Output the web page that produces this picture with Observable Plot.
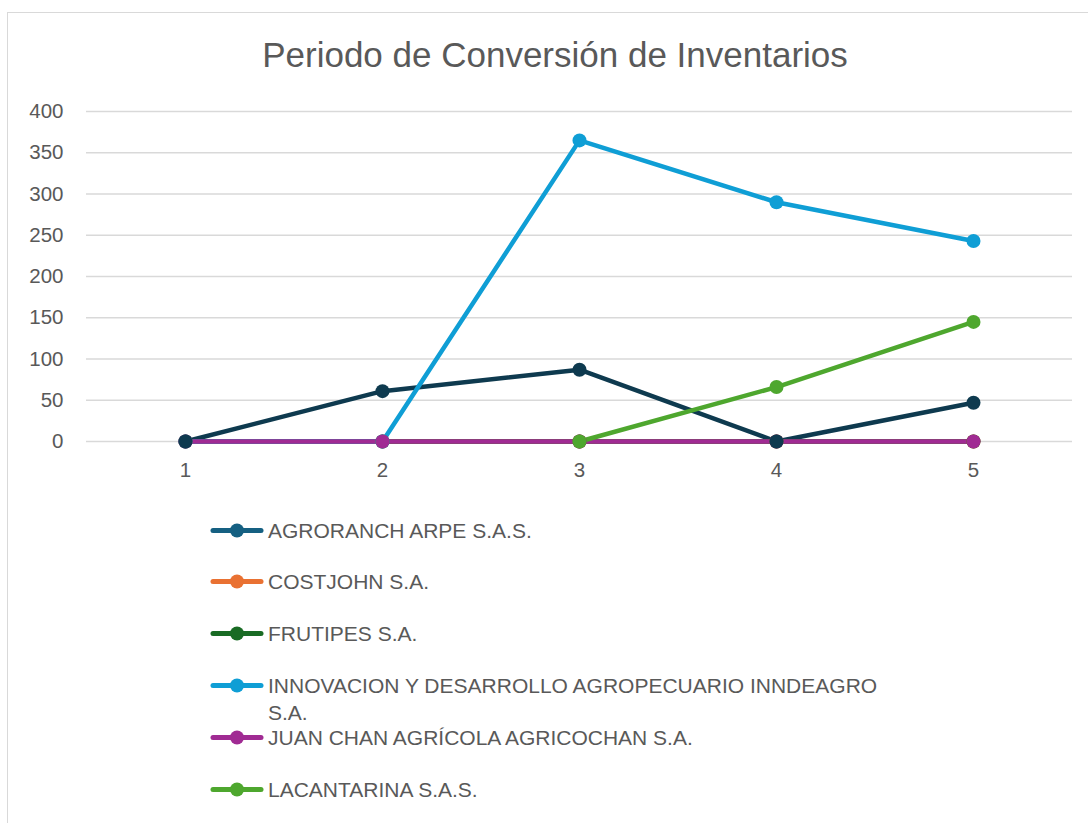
<!DOCTYPE html>
<html><head><meta charset="utf-8">
<script src="https://cdn.jsdelivr.net/npm/d3@7"></script>
<script src="https://cdn.jsdelivr.net/npm/@observablehq/plot@0.6"></script>
<style>
html,body{margin:0;padding:0;background:#fff;}
#wrap{position:relative;width:1088px;height:823px;overflow:hidden;font-family:"Liberation Sans",Arial,sans-serif;}
#frame{position:absolute;left:7px;top:12px;width:1100px;height:830px;border:1.5px solid #d9d9d9;box-sizing:border-box;}
#title{position:absolute;left:0;width:1110px;top:35px;text-align:center;font-size:35px;color:#595959;}
#chart{position:absolute;left:0;top:0;}
#legend{position:absolute;left:210px;top:0;}
.item{position:absolute;left:0;display:flex;align-items:flex-start;white-space:normal;}
.item span{font-size:21px;color:#595959;width:635px;line-height:27px;margin-left:4px;}
</style></head>
<body><div id="wrap"><div id="frame"></div><div id="chart"></div><div id="title">Periodo de Conversión de Inventarios</div><div id="legend"></div></div>
<script>
const periods = [1, 2, 3, 4, 5];
const seriesNames = [
  "AGRORANCH ARPE S.A.S.",
  "COSTJOHN S.A.",
  "FRUTIPES S.A.",
  "INNOVACION Y DESARROLLO AGROPECUARIO INNDEAGRO S.A.",
  "JUAN CHAN AGRÍCOLA AGRICOCHAN S.A.",
  "LACANTARINA S.A.S."
];
const agroranch = [0, 61, 87, 0, 47];
const costjohn = [0, 0, 0, 0, 0];
const frutipes = [0, 0, 0, 0, 0];
const innovacion = [0, 0, 365, 290, 243];
const juanchan = [0, 0, 0, 0, 0];
const lacantarina = [null, null, 0, 66, 145];
const lineColors = ["#0e3a4f", "#e97132", "#196b24", "#0f9ed5", "#a02b93", "#4ea72e"];
const legendColors = ["#156082", "#e97132", "#196b24", "#0f9ed5", "#a02b93", "#4ea72e"];
const yTicks = [0, 50, 100, 150, 200, 250, 300, 350, 400];

const allSeries = [agroranch, costjohn, frutipes, innovacion, juanchan, lacantarina];
const rows = [];
allSeries.forEach((vals, si) => vals.forEach((v, i) => rows.push({series: seriesNames[si], idx: si, period: periods[i], value: v})));
const dotOrder = [1, 2, 3, 4, 5, 0];
const dotRows = dotOrder.flatMap(si => rows.filter(r => r.idx === si && r.value != null));

const plot = Plot.plot({
  width: 1088, height: 490,
  marginLeft: 86, marginRight: 16, marginTop: 111, marginBottom: 49,
  style: {fontFamily: "Liberation Sans, Arial, sans-serif", fontSize: "20.5px", color: "#595959", background: "transparent"},
  x: {type: "point", domain: periods, padding: 0.5, label: null},
  y: {domain: [0, 400], label: null},
  color: {domain: seriesNames, range: lineColors},
  marks: [
    Plot.gridY(yTicks, {stroke: "#d9d9d9", strokeOpacity: 1, strokeWidth: 1.5}),
    Plot.axisY(yTicks, {tickSize: 0, tickPadding: 23, fill: "#595959", label: null}),
    Plot.axisX(periods, {tickSize: 0, tickPadding: 21, fill: "#595959", label: null}),
    Plot.line(rows, {x: "period", y: "value", z: "series", stroke: "series", strokeWidth: 4.5, strokeLinecap: "round", strokeLinejoin: "round"}),
    Plot.dot(dotRows, {x: "period", y: "value", fill: "series", r: 7})
  ]
});
document.getElementById("chart").appendChild(plot);

const legend = document.getElementById("legend");
const tops = [517, 568, 620, 672, 724, 776];
seriesNames.forEach((name, i) => {
  const div = document.createElement("div");
  div.className = "item";
  div.style.top = tops[i] + "px";
  div.innerHTML = `<svg width="54" height="27"><line x1="3" x2="51" y1="13.5" y2="13.5" stroke="${legendColors[i]}" stroke-width="5" stroke-linecap="round"/><circle cx="27" cy="13.5" r="7" fill="${legendColors[i]}"/></svg><span>${name}</span>`;
  legend.appendChild(div);
});
</script></body></html>
